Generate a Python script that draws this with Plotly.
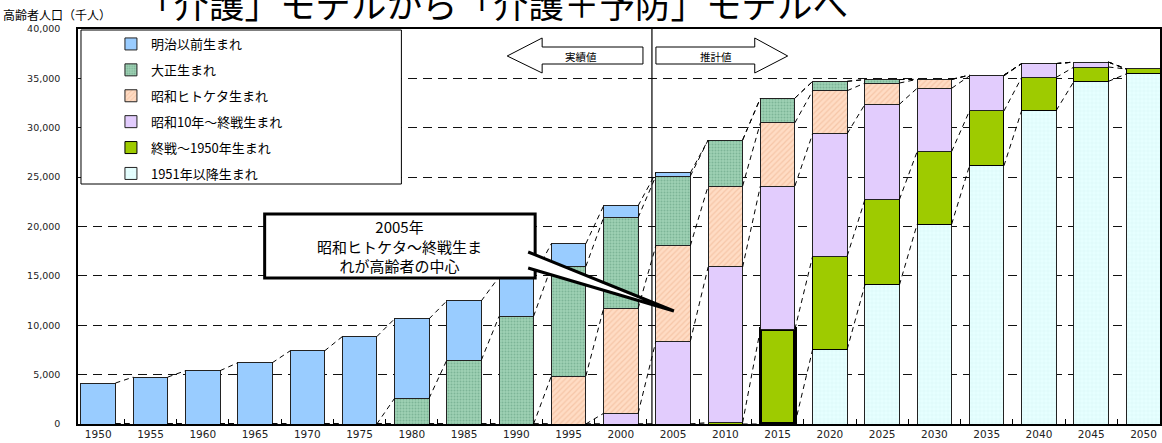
import plotly.graph_objects as go

# ---------------- data (千人) ----------------
years = [1950, 1955, 1960, 1965, 1970, 1975, 1980, 1985, 1990, 1995, 2000,
         2005, 2010, 2015, 2020, 2025, 2030, 2035, 2040, 2045, 2050]
year_labels = [str(y) for y in years]

after1951 = [0]*14 + [7560, 14080, 20250, 26150, 31750, 34700, 35450]
sengo = [0]*12 + [150, 9600, 9440, 8650, 7350, 5550, 3350, 1450, 500]
showa10 = [0]*10 + [1080, 8400, 15750, 14500, 12400, 9650, 6400, 3550, 1400, 500, 0]
hitoketa = [0]*9 + [4860, 10620, 9660, 8200, 6400, 4350, 2150, 900, 80, 0, 0, 0]
taisho = [0]*6 + [2600, 6470, 10900, 11100, 9200, 7050, 4660, 2500, 950, 350] + [0]*5
meiji = [4150, 4750, 5400, 6200, 7400, 8850, 8050, 6000, 4000, 2300, 1200, 330] + [0]*9

series_names = ["1951年以降生まれ", "終戦～1950年生まれ", "昭和10年～終戦生まれ",
                "昭和ヒトケタ生まれ", "大正生まれ", "明治以前生まれ"]
series_values = [after1951, sengo, showa10, hitoketa, taisho, meiji]

y_ticks = [0, 5000, 10000, 15000, 20000, 25000, 30000, 35000, 40000]

# ---------------- styles ----------------
JP = "Noto Sans CJK JP"
styles = [
    dict(color="#e6ffff", pattern=dict(shape="+", fgcolor="#cdeeee", size=4, solidity=0.15)),
    dict(color="#9ecb00"),
    dict(color="#e2ccfd"),
    dict(color="#ffdcc4", pattern=dict(shape="/", fgcolor="#f6c6a8", size=4, solidity=0.3)),
    dict(color="#9fd2b5", pattern=dict(shape=".", fgcolor="#7db597", size=3, solidity=0.35)),
    dict(color="#99ccff"),
]

W, H = 1162, 443
ML, MR, MT, MB = 78, 0, 29, 19
PW, PH = W - ML - MR, H - MT - MB
BARW = 0.66
XR = [-0.387, -0.387 + PW / 52.36]


def px(x):
    return (x - ML) / PW


def py(y):
    return (H - MB - y) / PH


fig = go.Figure()
xs = list(range(len(years)))
n_series = len(series_names)
for k, (name, vals) in enumerate(zip(series_names, series_values)):
    st = styles[k]
    lw = [1] * len(years)
    if k == 1:
        lw[years.index(2015)] = 3.5
    marker = dict(color=st["color"], line=dict(color="#222" if k != 1 else "#000", width=lw))
    if "pattern" in st:
        p = dict(st["pattern"])
        p["bgcolor"] = st["color"]
        p["fillmode"] = "replace"
        marker["pattern"] = p
    fig.add_trace(go.Bar(x=xs, y=vals, width=BARW, name=name, marker=marker,
                         legendgroup=name, legendrank=n_series - k))

# series lines (dashed connectors between stacked tops)
cum = [0] * len(years)
for k, vals in enumerate(series_values):
    cum = [c + v for c, v in zip(cum, vals)]
    lx, ly = [], []
    for i in range(len(years) - 1):
        lx += [i + BARW / 2, i + 1 - BARW / 2, None]
        ly += [cum[i], cum[i + 1], None]
    fig.add_trace(go.Scatter(x=lx, y=ly, mode="lines", showlegend=False,
                             line=dict(color="#000", width=1, dash="5px,4px"),
                             hoverinfo="skip"))

shapes = []
# legend box
shapes.append(dict(type="rect", xref="paper", yref="paper", x0=px(81), x1=px(402),
                   y0=py(184), y1=py(30), fillcolor="white",
                   line=dict(color="black", width=1), layer="above"))
# divider
shapes.append(dict(type="line", xref="paper", yref="paper", x0=px(653), x1=px(653),
                   y0=0, y1=1, line=dict(color="black", width=1.2), layer="above"))


def poly(pts):
    s = "M" + " L".join(f"{px(a):.5f},{py(b):.5f}" for a, b in pts) + " Z"
    return s


left_arrow = [(508, 56), (543, 38), (543, 47), (644, 47), (644, 64), (543, 64), (543, 73)]
right_arrow = [(789, 56), (756, 38), (756, 47), (657, 47), (657, 64), (756, 64), (756, 73)]
for pts in (left_arrow, right_arrow):
    shapes.append(dict(type="path", xref="paper", yref="paper", path=poly(pts),
                       fillcolor="white", line=dict(color="black", width=1), layer="above"))

# callout
shapes.append(dict(type="rect", xref="paper", yref="paper", x0=px(265), x1=px(536),
                   y0=py(278), y1=py(214), fillcolor="white",
                   line=dict(color="black", width=3), layer="above"))
wedge = f"M{px(529):.5f},{py(252):.5f} L{px(675):.5f},{py(311):.5f} L{px(529):.5f},{py(268):.5f}"
shapes.append(dict(type="path", xref="paper", yref="paper", path=wedge,
                   fillcolor="white", line=dict(color="black", width=3), layer="above"))

annotations = [
    dict(text="「介護」モデルから「介護＋予防」モデルへ", xref="paper", yref="paper",
         x=px(136), y=py(30), xanchor="left", yanchor="bottom", showarrow=False,
         font=dict(family=JP, size=35.5, color="black")),
    dict(text="高齢者人口（千人）", xref="paper", yref="paper", x=px(1), y=py(14),
         xanchor="left", yanchor="middle", showarrow=False,
         font=dict(family=JP, size=12, color="black")),
    dict(text="実績値", xref="paper", yref="paper", x=px(582), y=py(56),
         xanchor="center", yanchor="middle", showarrow=False,
         font=dict(family=JP, size=10.5, color="black")),
    dict(text="推計値", xref="paper", yref="paper", x=px(717), y=py(56),
         xanchor="center", yanchor="middle", showarrow=False,
         font=dict(family=JP, size=10.5, color="black")),
    dict(text="2005年<br>昭和ヒトケタ～終戦生ま<br>れが高齢者の中心", xref="paper", yref="paper",
         x=px(400), y=py(246), xanchor="center", yanchor="middle", showarrow=False,
         align="center", font=dict(family=JP, size=15, color="black")),
]

fig.update_layout(
    width=W, height=H, margin=dict(l=ML, r=MR, t=MT, b=MB),
    plot_bgcolor="white", paper_bgcolor="white",
    barmode="stack",
    shapes=shapes, annotations=annotations,
    legend=dict(x=px(111), y=py(29), xanchor="left", yanchor="top",
                traceorder="grouped", tracegroupgap=6,
                bgcolor="rgba(0,0,0,0)", borderwidth=0,
                font=dict(family=JP, size=13, color="black")),
    font=dict(family=JP),
)
fig.update_xaxes(range=XR, tickmode="array", tickvals=xs, ticktext=year_labels,
                 ticks="", showgrid=False, zeroline=False,
                 showline=True, linecolor="black", linewidth=1.5, mirror=True,
                 tickfont=dict(family="DejaVu Sans", size=10.5, color="#222"),
                 minor=dict(tickmode="array", tickvals=[i + 0.5 for i in range(-1, 21)],
                            ticks="inside", ticklen=5, tickcolor="black", tickwidth=1,
                            showgrid=False))
fig.update_yaxes(range=[0, 40000], tickmode="array", tickvals=y_ticks,
                 tickformat=",", ticks="", showgrid=True, gridcolor="#111",
                 griddash="9px,6px", gridwidth=1, zeroline=False,
                 showline=True, linecolor="black", linewidth=1.5, mirror=True,
                 ticklabelstandoff=14,
                 tickfont=dict(family="DejaVu Sans", size=9.5, color="#222"))

fig.write_html("out.html", config={"displayModeBar": False},
               post_script="document.body.style.margin='0';")
